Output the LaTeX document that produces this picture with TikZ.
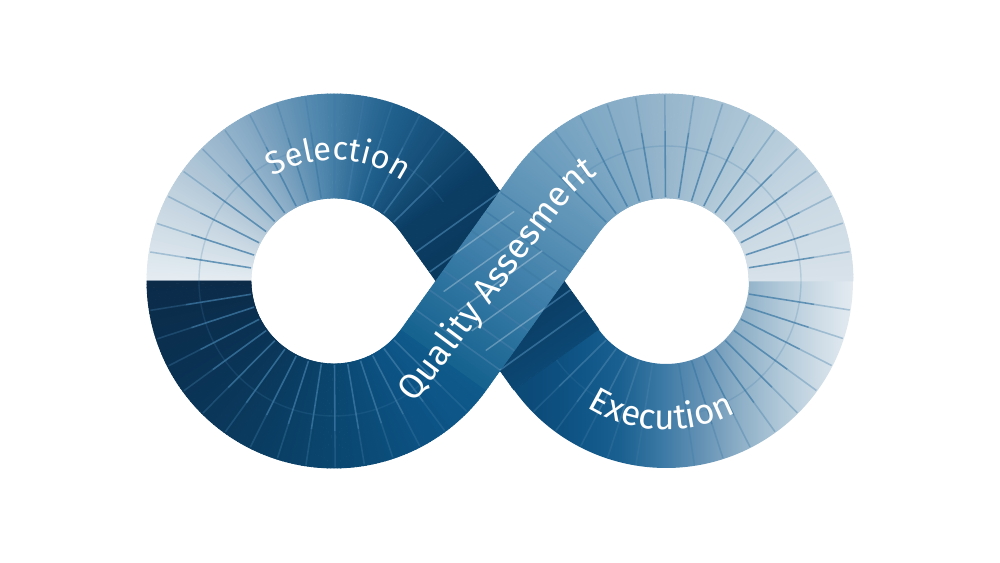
\documentclass[tikz,border=0pt]{standalone}
\usepackage{fontspec}
\newfontfamily\labelfont{Fira Sans}
\usetikzlibrary{calc,decorations.text}

% section 1: left loop, upper half
\definecolor{c1a}{HTML}{E6EDF2}\definecolor{c1b}{HTML}{BFD1DE}\definecolor{c1c}{HTML}{88ABC6}
\definecolor{c1d}{HTML}{4F86AD}\definecolor{c1e}{HTML}{1F5F8C}\definecolor{c1f}{HTML}{0B3D63}
% section 2: strand under
\definecolor{c2b}{HTML}{0A365A}\definecolor{c2c}{HTML}{0B4773}
% section 3: right loop, lower half (horizontal fade)
\definecolor{xc0}{HTML}{0B4773}\definecolor{xc1}{HTML}{0C4C7B}\definecolor{xc2}{HTML}{0F5586}
\definecolor{xc3}{HTML}{1A6090}\definecolor{xc4}{HTML}{3A78A4}\definecolor{xc5}{HTML}{6391B4}
\definecolor{xc6}{HTML}{8DAFC7}\definecolor{xc7}{HTML}{B0C8D8}\definecolor{xc8}{HTML}{CFDDE7}
\definecolor{xc9}{HTML}{E8EEF3}
% section 4: right loop, upper half
\definecolor{c4a}{HTML}{D8E2EA}\definecolor{c4b}{HTML}{CAD9E4}\definecolor{c4c}{HTML}{B0C8D8}
\definecolor{c4d}{HTML}{97B6CC}\definecolor{c4e}{HTML}{7BA6C3}\definecolor{c4f}{HTML}{6397B9}
% section 5: strand over
\definecolor{c5a}{HTML}{15628F}\definecolor{c5b}{HTML}{3A7CA8}
% section 6: left loop, lower half
\definecolor{c6a}{HTML}{0E5A8B}\definecolor{c6b}{HTML}{0C5283}\definecolor{c6c}{HTML}{0A466F}
\definecolor{c6d}{HTML}{0A3A5E}\definecolor{c6e}{HTML}{0A3152}\definecolor{c6f}{HTML}{0B2B49}
\definecolor{tickc}{HTML}{3F7BA6}

\pgfdeclarehorizontalshading{execshade}{100bp}{%
  color(0bp)=(xc0); color(25bp)=(xc0); color(30.56bp)=(xc1); color(36.11bp)=(xc2);
  color(41.67bp)=(xc3); color(47.22bp)=(xc4); color(52.78bp)=(xc5); color(58.33bp)=(xc6);
  color(63.89bp)=(xc7); color(69.44bp)=(xc8); color(75bp)=(xc9); color(100bp)=(xc9)}

\tikzset{
  tick/.style={draw=tickc, line width=0.45pt, opacity=0.75},
  tickfade/.style={draw=tickc, line width=0.45pt, opacity=0.35},
  midarc/.style={draw=tickc, line width=0.4pt, opacity=0.22},
  overtick/.style={draw=white, line width=0.4pt, opacity=0.28},
  labeltext/.style={decorate, decoration={text along path, #1}}
}

\newcommand\ringpart[6]{%
  \foreach \i in {1,...,#6}{%
    \pgfmathsetmacro\angA{#2+(#3-#2)*(\i-1)/#6}%
    \pgfmathsetmacro\angB{#2+(#3-#2)*\i/#6}%
    \pgfmathtruncatemacro\pctP{round(100*(\i-0.5)/#6)}%
    \colorlet{segc}{#5!\pctP!#4}%
    \filldraw[fill=segc,draw=segc,line width=0.25pt,shift={(#1)}]
      (\angA:187) arc[start angle=\angA,end angle=\angB,radius=187]
      -- (\angB:83) arc[start angle=\angB,end angle=\angA,radius=83] -- cycle;
  }%
}

\newcommand\strandpart[8]{%
  \foreach \i in {1,...,30}{%
    \pgfmathsetmacro\tA{#5+(#6-#5)*(\i-1)/30}%
    \pgfmathsetmacro\tB{#5+(#6-#5)*\i/30}%
    \pgfmathtruncatemacro\pctP{round(100*(\i-0.5)/30)}%
    \colorlet{segc}{#8!\pctP!#7}%
    \filldraw[fill=segc,draw=segc,line width=0.25pt]
      ($(#1)!\tA!(#2)$) -- ($(#1)!\tB!(#2)$) -- ($(#3)!\tB!(#4)$) -- ($(#3)!\tA!(#4)$) -- cycle;
  }%
}

\begin{document}
\begin{tikzpicture}[x=0.1mm,y=0.1mm]
\useasboundingbox (-500,-282) rectangle (500,281);
\coordinate (L) at (-166,0);
\coordinate (R) at (166,0);
% strand corners
\coordinate (u1) at ([shift={(L)}]35.58:83);
\coordinate (u2) at ([shift={(R)}]215.58:187);
\coordinate (u3) at ([shift={(L)}]35.58:187);
\coordinate (u4) at ([shift={(R)}]215.58:83);
\coordinate (q1) at ([shift={(L)}]324.42:83);
\coordinate (q2) at ([shift={(R)}]144.42:187);
\coordinate (q3) at ([shift={(L)}]324.42:187);
\coordinate (q4) at ([shift={(R)}]144.42:83);

% left loop, upper half (Selection)
\ringpart{L}{180}{150}{c1a}{c1b}{30}
\ringpart{L}{150}{120}{c1b}{c1c}{30}
\ringpart{L}{120}{95}{c1c}{c1d}{25}
\ringpart{L}{95}{70}{c1d}{c1e}{25}
\ringpart{L}{70}{35.58}{c1e}{c1f}{34}
% left loop, lower half
\ringpart{L}{324.42}{300}{c6a}{c6b}{24}
\ringpart{L}{300}{270}{c6b}{c6c}{30}
\ringpart{L}{270}{240}{c6c}{c6d}{30}
\ringpart{L}{240}{210}{c6d}{c6e}{30}
\ringpart{L}{210}{180}{c6e}{c6f}{30}
% right loop, lower half (Execution): horizontal fade
\begin{scope}
  \clip[shift={(R)}] (215.58:187) arc[start angle=215.58,end angle=360.2,radius=187]
    -- (360.2:83) arc[start angle=360.2,end angle=215.58,radius=83] -- cycle;
  \shade[shading=execshade] (0,-190) rectangle (360,1);
\end{scope}
% right loop, upper half
\ringpart{R}{0}{30}{c4a}{c4b}{30}
\ringpart{R}{30}{60}{c4b}{c4c}{30}
\ringpart{R}{60}{90}{c4c}{c4d}{30}
\ringpart{R}{90}{120}{c4d}{c4e}{30}
\ringpart{R}{120}{144.42}{c4e}{c4f}{24}

% faint middle arcs
\draw[midarc,shift={(L)}] (35.58:135) arc[start angle=35.58,end angle=324.42,radius=135];
\draw[midarc,shift={(R)}] (215.58:135) arc[start angle=215.58,end angle=504.42,radius=135];

% ticks on loops
\foreach \k in {1,...,31}{%
  \pgfmathsetmacro\ta{35.58+9.03*\k}%
  \ifdim \ta pt>178pt \ifdim \ta pt<182pt \else
    \draw[tick] ([shift={(L)}]\ta:84) -- ([shift={(L)}]\ta:150);
    \draw[tickfade] ([shift={(L)}]\ta:150) -- ([shift={(L)}]\ta:186);
  \fi \else
    \draw[tick] ([shift={(L)}]\ta:84) -- ([shift={(L)}]\ta:150);
    \draw[tickfade] ([shift={(L)}]\ta:150) -- ([shift={(L)}]\ta:186);
  \fi
  \pgfmathsetmacro\tb{215.58+9.03*\k}%
  \ifdim \tb pt>358pt \ifdim \tb pt<362pt \else
    \draw[tick] ([shift={(R)}]\tb:84) -- ([shift={(R)}]\tb:150);
    \draw[tickfade] ([shift={(R)}]\tb:150) -- ([shift={(R)}]\tb:186);
  \fi \else
    \draw[tick] ([shift={(R)}]\tb:84) -- ([shift={(R)}]\tb:150);
    \draw[tickfade] ([shift={(R)}]\tb:150) -- ([shift={(R)}]\tb:186);
  \fi
}

% strand under (Selection -> Execution)
\strandpart{u1}{u2}{u3}{u4}{0}{0.5}{c1f}{c2b}
\strandpart{u1}{u2}{u3}{u4}{0.5}{1}{c2b}{c2c}
\foreach \t in {0.125,0.25,...,0.9}{%
  \draw[tick] ($(u1)!\t!(u2)$) -- ($(u3)!\t!(u4)$);
}

% strand over (Quality Assesment)
\strandpart{q1}{q2}{q3}{q4}{0}{0.5}{c5a}{c5b}
\strandpart{q1}{q2}{q3}{q4}{0.5}{1}{c5b}{c4f}
\foreach \t in {0.125,0.25,...,0.9}{%
  \draw[tick] ($(q1)!\t!(q2)$) -- ($(q3)!\t!(q4)$);
}
\begin{scope}
  \clip (q1) -- (q2) -- (q4) -- (q3) -- cycle;
  \foreach \t in {0.125,0.25,...,0.9}{%
    \draw[overtick] ($(u1)!\t!(u2)$) -- ($(u3)!\t!(u4)$);
  }
\end{scope}

% labels
\path[labeltext={text align=center,
  text={|\labelfont\fontsize{9.3}{11}\selectfont\color{white}|Selection}}]
  ([shift={(L)}]132:121) arc[start angle=132, end angle=44, radius=121];
\path[labeltext={text align=center,
  text={|\labelfont\fontsize{10}{12}\selectfont\color{white}|Execution}}]
  ([shift={(R)}]226:149) arc[start angle=226, end angle=310, radius=149];
\path[labeltext={text align=left,
  text={|\labelfont\fontsize{10}{12}\selectfont\color{white}|Quality Assesment}}]
  (-85,-123) -- ([shift={(R)}]144.42:127) arc[start angle=144.42, end angle=95, radius=127];
\end{tikzpicture}
\end{document}
